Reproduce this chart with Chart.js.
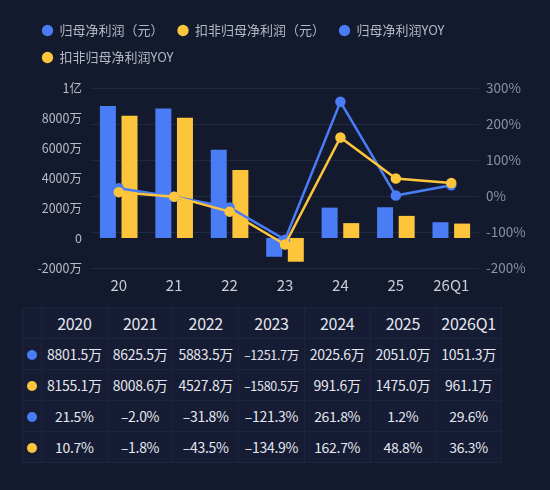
<!DOCTYPE html>
<html>
<head>
<meta charset="utf-8">
<script src="https://cdn.jsdelivr.net/npm/chart.js@4/dist/chart.umd.min.js"></script>
<style>
  html, body { margin: 0; padding: 0; background: #131a2d; }
  body { width: 550px; height: 490px; position: relative; overflow: hidden;
         font-family: "Noto Sans CJK SC", "Noto Sans", sans-serif; }
  #wrap { position: absolute; left: 0; top: 0; width: 550px; height: 305px; }
  #dataTable { position: absolute; left: 22px; top: 307px; width: 480px;
               border-collapse: collapse; table-layout: fixed; }
  #dataTable td { height: 30px; border: 1px solid #1c2440; background: #151c33;
                  color: #e4e7ef; font-size: 14px; text-align: center; padding: 0;
                  white-space: nowrap; letter-spacing: -0.3px; }
  #dataTable tr.head td { font-size: 16px; }
  #dataTable td.dot { width: 18px; }
  #dataTable td.dot span { display: inline-block; width: 10px; height: 10px; border-radius: 50%; }
</style>
</head>
<body>
<div id="wrap"><canvas id="profitChart"></canvas></div>
<table id="dataTable"></table>
<script>
const years = ['2020', '2021', '2022', '2023', '2024', '2025', '2026Q1'];
const axisLabels = ['20', '21', '22', '23', '24', '25', '26Q1'];
// 单位：万元
const netProfit = [8801.5, 8625.5, 5883.5, -1251.7, 2025.6, 2051.0, 1051.3];
const deductedProfit = [8155.1, 8008.6, 4527.8, -1580.5, 991.6, 1475.0, 961.1];
// 单位：%
const netProfitYoy = [21.5, -2.0, -31.8, -121.3, 261.8, 1.2, 29.6];
const deductedYoy = [10.7, -1.8, -43.5, -134.9, 162.7, 48.8, 36.3];

const blue = '#4a7cf6';
const yellow = '#fcc53c';

const fmtWan = v => v.toFixed(1) + '万';
const fmtPct = v => v.toFixed(1) + '%';

// 表格
const table = document.getElementById('dataTable');
const rows = [
    { color: null, cells: years },
    { color: blue, cells: netProfit.map(fmtWan) },
    { color: yellow, cells: deductedProfit.map(fmtWan) },
    { color: blue, cells: netProfitYoy.map(fmtPct) },
    { color: yellow, cells: deductedYoy.map(fmtPct) }
];
rows.forEach((r, i) => {
    const tr = document.createElement('tr');
    if (i === 0) tr.className = 'head';
    const first = document.createElement('td');
    first.className = 'dot';
    if (r.color) first.innerHTML = '<span style="background:' + r.color + '"></span>';
    tr.appendChild(first);
    r.cells.forEach(c => {
        const td = document.createElement('td');
        td.textContent = c.replace('-', '–');
        if (c.startsWith('-') && c.endsWith('万')) td.style.fontSize = '12.5px';
        tr.appendChild(td);
    });
    table.appendChild(tr);
});

const legendSpace = {
    id: 'legendSpace',
    beforeInit(chart) {
        const fit = chart.legend.fit;
        chart.legend.fit = function () {
            fit.bind(chart.legend)();
            this.height += 14;
        };
    }
};

const legendOrder = [2, 3, 0, 1];
const font = '"Noto Sans CJK SC", sans-serif';

const ctx = document.getElementById('profitChart').getContext('2d');
new Chart(ctx, {
    data: {
        labels: axisLabels,
        datasets: [
            { type: 'line', label: '归母净利润YOY', data: netProfitYoy, yAxisID: 'yPct',
              borderColor: blue, backgroundColor: blue, borderWidth: 2.5,
              pointRadius: 4, pointHoverRadius: 4, tension: 0, order: 1 },
            { type: 'line', label: '扣非归母净利润YOY', data: deductedYoy, yAxisID: 'yPct',
              borderColor: yellow, backgroundColor: yellow, borderWidth: 2.5,
              pointRadius: 4, pointHoverRadius: 4, tension: 0, order: 0 },
            { type: 'bar', label: '归母净利润（元）', data: netProfit, yAxisID: 'yVal',
              backgroundColor: blue, categoryPercentage: 0.78, barPercentage: 0.74, order: 2 },
            { type: 'bar', label: '扣非归母净利润（元）', data: deductedProfit, yAxisID: 'yVal',
              backgroundColor: yellow, categoryPercentage: 0.78, barPercentage: 0.74, order: 3 }
        ]
    },
    options: {
        responsive: true,
        maintainAspectRatio: false,
        animation: false,
        layout: { padding: { left: 28, right: 0, top: 10, bottom: 3 } },
        plugins: {
            tooltip: { enabled: false },
            legend: {
                position: 'top',
                align: 'start',
                labels: {
                    usePointStyle: true,
                    pointStyle: 'circle',
                    boxWidth: 11,
                    boxHeight: 8,
                    padding: 14,
                    color: '#b3b8c6',
                    font: { size: 13, family: font },
                    generateLabels(chart) {
                        const items = Chart.defaults.plugins.legend.labels.generateLabels(chart);
                        items.forEach(it => { it.lineWidth = 0; it.strokeStyle = 'transparent'; });
                        return items;
                    },
                    sort: (a, b) => legendOrder.indexOf(a.datasetIndex) - legendOrder.indexOf(b.datasetIndex)
                }
            }
        },
        scales: {
            x: {
                grid: { display: false, drawTicks: false },
                border: { display: false },
                ticks: { color: '#c9cdd8', padding: 8, font: { size: 15, family: font } }
            },
            yVal: {
                position: 'left',
                min: -2000,
                max: 10000,
                grid: { display: false, drawTicks: false },
                border: { display: false },
                afterFit(scale) { scale.width = 63; },
                ticks: {
                    stepSize: 2000,
                    padding: 9,
                    color: '#b8bcc9',
                    font: { size: 12.5, family: font },
                    callback: v => v === 10000 ? '1亿' : (v === 0 ? '0' : v + '万')
                }
            },
            yPct: {
                position: 'right',
                min: -200,
                max: 300,
                grid: { color: '#212942', lineWidth: 1, drawTicks: false },
                border: { display: false },
                afterFit(scale) { scale.width = 71; },
                ticks: {
                    stepSize: 100,
                    padding: 7,
                    color: '#8b91a3',
                    font: { size: 13.5, family: font },
                    callback: v => v + '%'
                }
            }
        }
    },
    plugins: [legendSpace]
});
</script>
</body>
</html>
